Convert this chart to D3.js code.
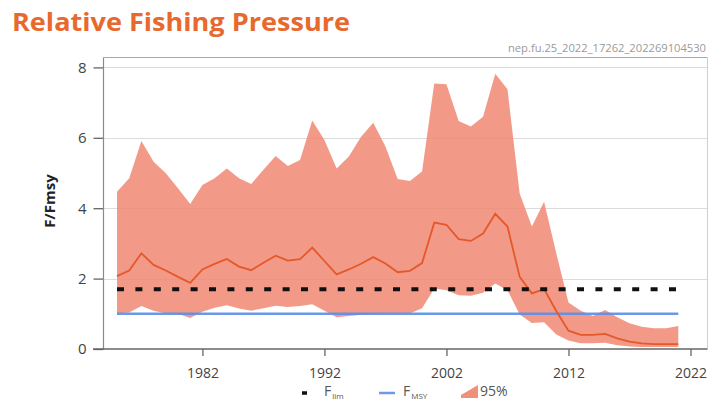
<!DOCTYPE html>
<html>
<head>
<meta charset="utf-8">
<script src="https://cdn.jsdelivr.net/npm/d3@7"></script>
<style>
  html, body { margin: 0; padding: 0; background: #fff; }
  svg { display: block; font-family: "Open Sans", "DejaVu Sans", sans-serif; }
</style>
</head>
<body>
<svg id="chart" width="709" height="402"></svg>
<script>
const years = d3.range(1975, 2022);
const median = [2.07,2.23,2.72,2.39,2.23,2.05,1.88,2.26,2.42,2.56,2.34,2.24,2.45,2.65,2.51,2.55,2.88,2.50,2.12,2.26,2.42,2.61,2.43,2.18,2.22,2.44,3.59,3.53,3.12,3.07,3.28,3.84,3.48,2.05,1.58,1.70,1.08,0.52,0.40,0.40,0.43,0.30,0.21,0.16,0.14,0.14,0.14];
const upper = [4.47,4.85,5.91,5.32,4.99,4.57,4.12,4.66,4.85,5.13,4.85,4.69,5.09,5.48,5.20,5.37,6.49,5.94,5.13,5.47,6.03,6.43,5.75,4.83,4.77,5.04,7.54,7.52,6.48,6.32,6.60,7.82,7.38,4.42,3.48,4.18,2.72,1.32,1.09,0.94,1.11,0.90,0.73,0.63,0.59,0.59,0.65];
const lower = [1.01,1.04,1.22,1.09,1.01,1.00,0.88,1.06,1.17,1.24,1.15,1.09,1.16,1.23,1.19,1.22,1.27,1.09,0.90,0.94,0.97,1.00,1.01,1.01,1.01,1.16,1.72,1.67,1.53,1.51,1.60,1.86,1.67,0.98,0.74,0.76,0.41,0.24,0.16,0.16,0.18,0.11,0.07,0.06,0.06,0.06,0.06];
const Flim = 1.7;
const Fmsy = 1.0;
const xTicks = [1982, 1992, 2002, 2012, 2022];
const yTicks = [0, 2, 4, 6, 8];
const title = "Relative Fishing Pressure";
const subtitle = "nep.fu.25_2022_17262_202269104530";
const yLabel = "F/Fmsy";

(function () {
const svg = d3.select("#chart");
const pLeft = 103.5, pRight = 707.5, pTop = 57.5, pBottom = 349;

const x = d3.scaleLinear().domain([1975, 2021]).range([117, 678.3]);
const y = d3.scaleLinear().domain([0, 8]).range([pBottom, 67.4]);

// title
svg.append("text").attr("x", 12).attr("y", 31)
  .attr("font-size", 25).attr("font-weight", 700).attr("fill", "#e8692d")
  .attr("textLength", 338).attr("lengthAdjust", "spacingAndGlyphs")
  .text(title);
svg.append("text").attr("x", 706).attr("y", 52)
  .attr("text-anchor", "end").attr("font-size", 10).attr("fill", "#9a9a9a")
  .attr("textLength", 198).attr("lengthAdjust", "spacingAndGlyphs")
  .text(subtitle);

// gridlines
svg.append("g").selectAll("line").data(yTicks.filter(d => d > 0)).join("line")
  .attr("x1", pLeft).attr("x2", pRight)
  .attr("y1", d => Math.round(y(d)) + 0.5).attr("y2", d => Math.round(y(d)) + 0.5)
  .attr("stroke", "#dcdcdc").attr("stroke-width", 1);

// frame
svg.append("line").attr("x1", pLeft).attr("x2", pRight).attr("y1", pTop).attr("y2", pTop)
  .attr("stroke", "#a8a8a8").attr("stroke-width", 1.2);
svg.append("line").attr("x1", pRight).attr("x2", pRight).attr("y1", pTop).attr("y2", pBottom)
  .attr("stroke", "#cfcfcf").attr("stroke-width", 1);

// band
const idx = d3.range(years.length);
svg.append("path").datum(idx)
  .attr("d", d3.area().x(i => x(years[i])).y0(i => y(lower[i])).y1(i => y(upper[i])))
  .attr("fill", "#ef8770").attr("fill-opacity", 0.84);

// Fmsy line
svg.append("line").attr("x1", x(years[0])).attr("x2", x(years[years.length - 1]))
  .attr("y1", y(Fmsy)).attr("y2", y(Fmsy))
  .attr("stroke", "#5b8ee8").attr("stroke-width", 2.5).attr("stroke-opacity", 0.9);

// median
svg.append("path").datum(idx)
  .attr("d", d3.line().x(i => x(years[i])).y(i => y(median[i])))
  .attr("fill", "none").attr("stroke", "#e4582a").attr("stroke-width", 1.8);

// Flim dashed
svg.append("line").attr("x1", x(years[0])).attr("x2", 676)
  .attr("y1", y(Flim)).attr("y2", y(Flim))
  .attr("stroke", "#111").attr("stroke-width", 4).attr("stroke-dasharray", "7,11.4");

// y axis
const yAxis = svg.append("g").attr("transform", `translate(${pLeft},0)`)
  .call(d3.axisLeft(y).tickValues(yTicks).tickSize(10).tickPadding(7).tickFormat(d3.format("d")));
yAxis.select(".domain").remove();
yAxis.selectAll(".tick line").attr("stroke", "#666").attr("stroke-width", 1.3);
yAxis.selectAll(".tick text").attr("font-size", 15).attr("fill", "#444")
  .attr("font-family", "\"Open Sans\", sans-serif");
svg.append("line").attr("x1", pLeft).attr("x2", pLeft).attr("y1", pTop).attr("y2", pBottom)
  .attr("stroke", "#8a8a8a").attr("stroke-width", 1.2);

// x axis
const xAxis = svg.append("g").attr("transform", `translate(0,${pBottom})`)
  .call(d3.axisBottom(x).tickValues(xTicks).tickSize(7).tickPadding(12).tickFormat(d3.format("d")));
xAxis.select(".domain").remove();
xAxis.selectAll(".tick line").attr("stroke", "#666").attr("stroke-width", 1.3);
xAxis.selectAll(".tick text").attr("font-size", 14).attr("fill", "#444")
  .attr("font-family", "\"Open Sans\", sans-serif");
svg.append("line").attr("x1", 93).attr("x2", pRight).attr("y1", pBottom).attr("y2", pBottom)
  .attr("stroke", "#666").attr("stroke-width", 1.6);

// y label
svg.append("text").attr("transform", "translate(55,201) rotate(-90)")
  .attr("text-anchor", "middle").attr("font-size", 15).attr("font-weight", 700).attr("fill", "#222")
  .text(yLabel);

// legend
const ly = 396;
const lg = svg.append("g").attr("font-size", 14).attr("fill", "#555");
lg.append("line").attr("x1", 302).attr("x2", 307).attr("y1", ly - 3).attr("y2", ly - 3)
  .attr("stroke", "#111").attr("stroke-width", 3.5);
const t1 = lg.append("text").attr("x", 324).attr("y", ly);
t1.append("tspan").text("F");
t1.append("tspan").attr("font-size", 8).attr("dy", 2.5).attr("dx", 1).text("lim");
lg.append("line").attr("x1", 379).attr("x2", 395).attr("y1", ly - 3).attr("y2", ly - 3)
  .attr("stroke", "#6e9be8").attr("stroke-width", 2.5);
const t2 = lg.append("text").attr("x", 403).attr("y", ly);
t2.append("tspan").text("F");
t2.append("tspan").attr("font-size", 8).attr("dy", 2.5).attr("dx", 1).text("MSY");
lg.append("polygon").attr("points", `461,${ly - 1} 478,${ly - 11} 478,${ly + 2} 461,${ly + 2}`).attr("fill", "#f1907a");
lg.append("text").attr("x", 480).attr("y", ly).text("95%");
})();
</script>
</body>
</html>
